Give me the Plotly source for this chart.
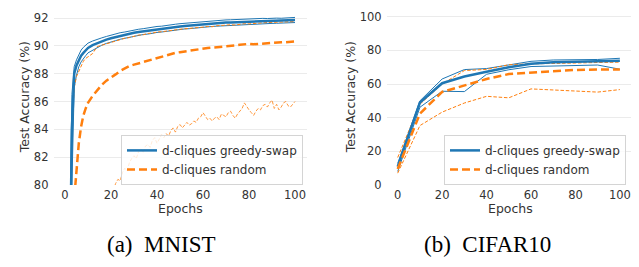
import plotly.graph_objects as go

# ---------------- data ----------------
mnist_epochs = [0, 1, 2, 3, 4, 5, 6, 7, 8, 9, 10] + list(range(12, 101, 2))

mnist_greedy_mean = [10.0, 45.0, 72.0, 84.0, 88.0, 88.6, 89.0, 89.3, 89.5, 89.7, 89.85,
                     90.05, 90.2, 90.32, 90.45, 90.55, 90.64, 90.72, 90.8, 90.88, 90.95,
                     91.0, 91.05, 91.09, 91.14, 91.2, 91.24, 91.28, 91.33, 91.38, 91.4,
                     91.43, 91.46, 91.5, 91.53, 91.58, 91.6, 91.62, 91.64, 91.66, 91.68,
                     91.69, 91.7, 91.72, 91.74, 91.75, 91.76, 91.77, 91.78, 91.79, 91.8,
                     91.81, 91.82, 91.83, 91.85, 91.86]
mnist_greedy_max = [12.0, 50.0, 76.0, 86.5, 88.5, 89.0, 89.4, 89.7, 89.9, 90.05, 90.2,
                    90.35, 90.48, 90.58, 90.68, 90.78, 90.86, 90.95, 91.0, 91.08, 91.15,
                    91.2, 91.24, 91.3, 91.33, 91.4, 91.42, 91.48, 91.52, 91.56, 91.6,
                    91.63, 91.65, 91.7, 91.72, 91.76, 91.78, 91.8, 91.84, 91.83, 91.87,
                    91.88, 91.9, 91.92, 91.93, 91.95, 91.94, 91.97, 91.98, 91.97, 92.0,
                    92.0, 91.99, 92.02, 92.04, 92.05]
mnist_greedy_min = [8.0, 40.0, 68.0, 80.0, 87.0, 87.9, 88.5, 88.85, 89.1, 89.3, 89.5,
                    89.7, 89.9, 90.05, 90.18, 90.3, 90.38, 90.48, 90.55, 90.64, 90.7,
                    90.75, 90.82, 90.85, 90.92, 90.97, 91.0, 91.05, 91.1, 91.15, 91.18,
                    91.22, 91.24, 91.28, 91.3, 91.35, 91.38, 91.4, 91.42, 91.44, 91.46,
                    91.48, 91.5, 91.52, 91.55, 91.56, 91.57, 91.58, 91.6, 91.61, 91.62,
                    91.63, 91.64, 91.65, 91.66, 91.68]

mnist_random_mean = [10.0, 30.0, 55.0, 72.0, 79.0, 81.0, 83.0, 84.2, 85.0, 85.5, 85.9,
                     86.4, 86.8, 87.2, 87.5, 87.7, 87.95, 88.2, 88.4, 88.55, 88.65,
                     88.75, 88.85, 88.95, 89.02, 89.1, 89.2, 89.3, 89.42, 89.5, 89.55,
                     89.6, 89.65, 89.75, 89.78, 89.8, 89.85, 89.88, 89.9, 89.93, 89.97,
                     90.0, 90.03, 90.08, 90.12, 90.15, 90.12, 90.15, 90.18, 90.2, 90.22,
                     90.24, 90.26, 90.27, 90.3, 90.32]
mnist_random_max = [10.0, 48.0, 75.0, 84.0, 87.0, 87.8, 88.2, 88.6, 88.9, 89.1, 89.2,
                    89.45, 89.95, 90.05, 90.2, 90.3, 90.4, 90.45, 90.55, 90.6, 90.7,
                    90.78, 90.8, 90.9, 90.92, 91.0, 91.02, 91.05, 91.12, 91.15, 91.2,
                    91.22, 91.25, 91.3, 91.28, 91.35, 91.4, 91.38, 91.45, 91.48, 91.5,
                    91.52, 91.5, 91.55, 91.6, 91.58, 91.62, 91.65, 91.66, 91.68, 91.7,
                    91.68, 91.72, 91.73, 91.75, 91.75]

mnist_random_min_epochs = [0, 5, 10, 15, 18] + list(range(20, 101))
mnist_random_min = [10.0, 50.0, 68.0, 75.0, 77.5,
                    79.0, 79.6, 80.1, 80.4, 80.3, 80.9, 81.2, 81.0, 81.6, 81.9,
                    82.1, 81.9, 82.4, 82.6, 82.3, 82.8, 82.9, 82.7, 83.2, 83.4,
                    83.0, 83.3, 83.6, 83.4, 83.7, 83.5, 83.9, 84.1, 83.8, 84.2,
                    84.35, 84.1, 84.3, 84.5, 84.3, 84.4, 84.6, 84.5, 84.8, 84.9,
                    85.2, 84.9, 84.7, 84.8, 84.6, 84.8, 84.9, 84.7, 85.1, 85.0,
                    84.9, 85.2, 85.3, 85.0, 84.8, 85.1, 85.3, 85.5, 85.9, 85.6,
                    85.4, 85.2, 85.0, 85.3, 85.5, 85.4, 85.7, 85.8, 85.6, 85.9,
                    86.1, 85.5, 85.8, 85.4, 85.6, 85.9, 86.0, 85.7, 85.6, 85.8,
                    86.0]

cifar_epochs = [0, 10, 20, 30, 40, 50, 60, 70, 80, 90, 100]
cifar_greedy_mean = [10.9, 49.0, 60.5, 64.5, 67.3, 70.0, 72.0, 72.9, 73.3, 73.5, 73.8]
cifar_greedy_max = [12.8, 50.0, 63.0, 68.6, 69.2, 71.5, 73.5, 74.3, 74.5, 74.6, 75.3]
cifar_greedy_min = [8.0, 46.2, 55.7, 55.5, 65.8, 68.5, 70.4, 70.6, 71.0, 71.3, 68.8]
cifar_random_mean = [9.5, 42.4, 55.3, 59.3, 63.0, 65.9, 66.6, 67.3, 68.4, 68.6, 68.7]
cifar_random_max = [16.3, 48.0, 60.0, 68.0, 68.7, 71.5, 72.0, 72.1, 72.5, 72.8, 73.0]
cifar_random_min = [7.0, 35.3, 43.3, 48.7, 52.7, 51.8, 57.1, 56.6, 55.9, 55.2, 56.7]

series_names = ["d-cliques greedy-swap", "d-cliques random"]
captions = ["(a)  MNIST", "(b)  CIFAR10"]
x_ticks = [0, 20, 40, 60, 80, 100]
mnist_y_ticks = [80, 82, 84, 86, 88, 90, 92]
cifar_y_ticks = [0, 20, 40, 60, 80, 100]

# ---------------- styling ----------------
BLUE = "#1f77b4"
ORANGE = "#ff7f0e"
W, H = 639, 267
FONT = "DejaVu Sans"
TXT = "#333333"
GRID = "#ebebeb"

def px_x(p):
    return p / W

def px_y(p):
    return (H - p) / H

fig = go.Figure()

def add(x, y, color, width, dash, xa, ya, name=None, legend=None, opacity=1.0):
    fig.add_trace(go.Scatter(
        x=x, y=y, mode="lines",
        line=dict(color=color, width=width, dash=dash),
        opacity=opacity,
        xaxis=xa, yaxis=ya,
        name=name if name else "",
        showlegend=name is not None,
        legend=legend if legend else "legend",
        hoverinfo="skip",
    ))

THIN_DASH = "3.5px,1.8px"
THICK_DASH = "8px,4px"

# MNIST (left)
add(mnist_epochs, mnist_greedy_max, BLUE, 1, "solid", "x", "y")
add(mnist_epochs, mnist_greedy_min, BLUE, 1, "solid", "x", "y")
add(mnist_epochs, mnist_random_max, ORANGE, 1, THIN_DASH, "x", "y")
add(mnist_random_min_epochs, mnist_random_min, ORANGE, 1, THIN_DASH, "x", "y", opacity=0.8)
add(mnist_epochs, mnist_greedy_mean, BLUE, 2.5, "solid", "x", "y", name=series_names[0], legend="legend")
add(mnist_epochs, mnist_random_mean, ORANGE, 2.5, THICK_DASH, "x", "y", name=series_names[1], legend="legend")

# CIFAR10 (right)
add(cifar_epochs, cifar_greedy_max, BLUE, 1, "solid", "x2", "y2")
add(cifar_epochs, cifar_greedy_min, BLUE, 1, "solid", "x2", "y2")
add(cifar_epochs, cifar_random_max, ORANGE, 1, THIN_DASH, "x2", "y2")
add(cifar_epochs, cifar_random_min, ORANGE, 1, THIN_DASH, "x2", "y2")
add(cifar_epochs, cifar_greedy_mean, BLUE, 2.5, "solid", "x2", "y2", name=series_names[0], legend="legend2")
add(cifar_epochs, cifar_random_mean, ORANGE, 2.5, THICK_DASH, "x2", "y2", name=series_names[1], legend="legend2")

y_bottom, y_top = 189, 10
ydom = [px_y(y_bottom), px_y(y_top)]

common_x = dict(range=[-5, 105], tickvals=x_ticks, showgrid=False, zeroline=False,
                showline=False, ticks="", ticklabelstandoff=2,
                tickfont=dict(family=FONT, size=11.5, color=TXT))
common_y = dict(showgrid=True, gridcolor=GRID, gridwidth=1, zeroline=False,
                showline=False, ticks="", ticklabelstandoff=4,
                tickfont=dict(family=FONT, size=11.5, color=TXT))

mnist_top = 92 + (15.7 - y_top) / ((189 - 15.7) / 12)
cifar_top = 100 + (14.3 - y_top) / ((189 - 14.3) / 100)

legend_style = dict(
    bgcolor="rgba(255,255,255,0.8)", bordercolor="#d4d4d4", borderwidth=1,
    font=dict(family=FONT, size=12, color=TXT),
    xanchor="right", yanchor="middle", tracegroupgap=0,
    itemwidth=30,
)

fig.update_layout(
    width=W, height=H,
    margin=dict(l=0, r=0, t=0, b=0),
    paper_bgcolor="white", plot_bgcolor="white",
    xaxis=dict(domain=[px_x(53.5), px_x(306.5)], anchor="y", **common_x),
    yaxis=dict(domain=ydom, anchor="x", range=[80, mnist_top], tickvals=mnist_y_ticks, **common_y),
    xaxis2=dict(domain=[px_x(386.6), px_x(631)], anchor="y2", **common_x),
    yaxis2=dict(domain=ydom, anchor="x2", range=[0, cifar_top], tickvals=cifar_y_ticks, **common_y),
    legend=dict(x=px_x(303), y=px_y(163), **legend_style),
    legend2=dict(x=px_x(626), y=px_y(163), **legend_style),
    showlegend=True,
)

# axis titles
for cx in [180, 510]:
    fig.add_annotation(text="Epochs", x=px_x(cx), y=px_y(214), xref="paper", yref="paper",
                       showarrow=False, xanchor="center", yanchor="middle",
                       font=dict(family=FONT, size=12.5, color=TXT))
for cx in [24, 350]:
    fig.add_annotation(text="Test Accuracy (%)", x=px_x(cx), y=px_y(98), xref="paper", yref="paper",
                       showarrow=False, xanchor="center", yanchor="middle", textangle=-90,
                       font=dict(family=FONT, size=12.5, color=TXT))

# captions
for cap, cx in zip(captions, [161.5, 487]):
    fig.add_annotation(text=cap, x=px_x(cx), y=px_y(251), xref="paper", yref="paper",
                       showarrow=False, xanchor="center", yanchor="middle",
                       font=dict(family="Liberation Serif", size=23, color="black"))

fig.write_html("out.html", config={"displayModeBar": False},
               post_script="document.body.style.margin='0';")
